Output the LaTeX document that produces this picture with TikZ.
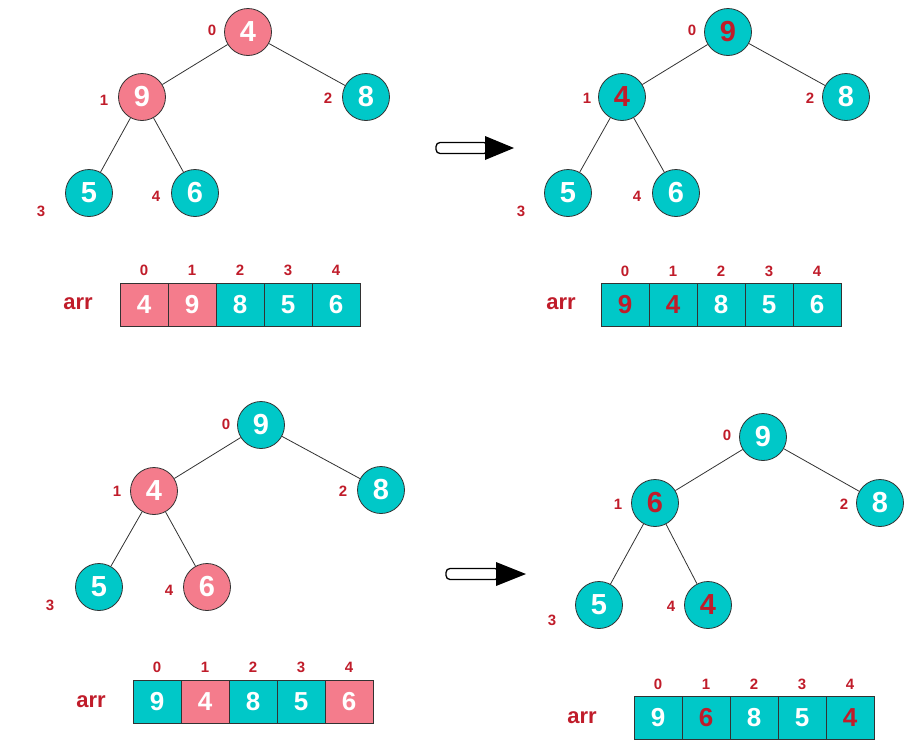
\documentclass[tikz,border=0pt]{standalone}
\usepackage{fontspec}
\setmainfont{Liberation Sans}
\definecolor{pinkc}{RGB}{244,124,140}
\definecolor{tealc}{RGB}{0,200,200}
\definecolor{redc}{RGB}{192,28,42}
\definecolor{linec}{RGB}{50,50,50}
\tikzset{
  hn/.style={circle, draw=linec, line width=0.8pt, minimum size=47pt, inner sep=0pt,
    font=\fontsize{29}{29}\selectfont\bfseries, text=white},
  pk/.style={hn, fill=pinkc},
  tl/.style={hn, fill=tealc},
  idx/.style={font=\fontsize{15}{15}\selectfont\bfseries, text=redc, inner sep=0pt},
  aidx/.style={font=\fontsize{15}{15}\selectfont\bfseries, text=redc, inner sep=0pt},
  arrlab/.style={font=\fontsize{22}{22}\selectfont\bfseries, text=redc, inner sep=0pt},
  cell/.style={rectangle, draw=linec, line width=0.8pt, minimum width=48pt, minimum height=43pt,
    inner sep=0pt, font=\fontsize{26}{26}\selectfont\bfseries, text=white},
  pcell/.style={cell, fill=pinkc},
  tcell/.style={cell, fill=tealc},
  edg/.style={draw=linec, line width=0.8pt},
  shaft/.style={draw=black, line width=1.3pt, fill=white, rounded corners=4pt},
  head/.style={fill=black}
}
\begin{document}
\begin{tikzpicture}[x=1pt,y=-1pt]
\useasboundingbox (0,0) rectangle (919,745);

% ---------- Panel 1 ----------
\node[pk] (a0) at (248,32) {4};
\node[pk] (a1) at (142,97) {9};
\node[tl] (a2) at (366,97) {8};
\node[tl] (a3) at (89,193) {5};
\node[tl] (a4) at (195,193) {6};
\draw[edg] (a0) -- (a1);
\draw[edg] (a0) -- (a2);
\draw[edg] (a1) -- (a3);
\draw[edg] (a1) -- (a4);
\node[idx] (la0) at (212,30) {0};
\node[idx] (la1) at (104,100) {1};
\node[idx] (la2) at (328,98) {2};
\node[idx] (la3) at (41,211) {3};
\node[idx] (la4) at (156,196) {4};
\node[arrlab] (arrA) at (78,304) {arr};
\node[pcell] (ca0) at (144,304.5) {4};
\node[pcell] (ca1) at (192,304.5) {9};
\node[tcell] (ca2) at (240,304.5) {8};
\node[tcell] (ca3) at (288,304.5) {5};
\node[tcell] (ca4) at (336,304.5) {6};
\foreach \i/\x in {0/144,1/192,2/240,3/288,4/336}
  \node[aidx] (ia\i) at (\x,270) {\i};

% ---------- Arrow 1 ----------
\draw[shaft] (436,142.5) rectangle (488,153.5);
\fill[head] (485,136) -- (514,148) -- (485,160) -- cycle;

% ---------- Panel 2 ----------
\node[tl] (b0) at (728,32) {\textcolor{redc}{9}};
\node[tl] (b1) at (622,97) {\textcolor{redc}{4}};
\node[tl] (b2) at (846,97) {8};
\node[tl] (b3) at (568,193) {5};
\node[tl] (b4) at (676,193) {6};
\draw[edg] (b0) -- (b1);
\draw[edg] (b0) -- (b2);
\draw[edg] (b1) -- (b3);
\draw[edg] (b1) -- (b4);
\node[idx] (lb0) at (692,30) {0};
\node[idx] (lb1) at (587,98) {1};
\node[idx] (lb2) at (810,98) {2};
\node[idx] (lb3) at (521,211) {3};
\node[idx] (lb4) at (637,196) {4};
\node[arrlab] (arrB) at (561,304) {arr};
\node[tcell] (cb0) at (625,304.5) {\textcolor{redc}{9}};
\node[tcell] (cb1) at (673,304.5) {\textcolor{redc}{4}};
\node[tcell] (cb2) at (721,304.5) {8};
\node[tcell] (cb3) at (769,304.5) {5};
\node[tcell] (cb4) at (817,304.5) {6};
\foreach \i/\x in {0/625,1/673,2/721,3/769,4/817}
  \node[aidx] (ib\i) at (\x,271) {\i};

% ---------- Panel 3 ----------
\node[tl] (c0) at (261,425) {9};
\node[pk] (c1) at (154,491) {4};
\node[tl] (c2) at (381,490) {8};
\node[tl] (c3) at (99,587) {5};
\node[pk] (c4) at (207,587) {6};
\draw[edg] (c0) -- (c1);
\draw[edg] (c0) -- (c2);
\draw[edg] (c1) -- (c3);
\draw[edg] (c1) -- (c4);
\node[idx] (lc0) at (226,424) {0};
\node[idx] (lc1) at (117,491) {1};
\node[idx] (lc2) at (343,491) {2};
\node[idx] (lc3) at (50,605) {3};
\node[idx] (lc4) at (169,590) {4};
\node[arrlab] (arrC) at (91,702) {arr};
\node[tcell] (cc0) at (157,702) {9};
\node[pcell] (cc1) at (205,702) {4};
\node[tcell] (cc2) at (253,702) {8};
\node[tcell] (cc3) at (301,702) {5};
\node[pcell] (cc4) at (349,702) {6};
\foreach \i/\x in {0/157,1/205,2/253,3/301,4/349}
  \node[aidx] (ic\i) at (\x,667) {\i};

% ---------- Arrow 2 ----------
\draw[shaft] (446,568.5) rectangle (499,579.5);
\fill[head] (496,562) -- (526,574) -- (496,586) -- cycle;

% ---------- Panel 4 ----------
\node[tl] (d0) at (763,437) {9};
\node[tl] (d1) at (655,503) {\textcolor{redc}{6}};
\node[tl] (d2) at (880,503) {8};
\node[tl] (d3) at (599,605) {5};
\node[tl] (d4) at (708,605) {\textcolor{redc}{4}};
\draw[edg] (d0) -- (d1);
\draw[edg] (d0) -- (d2);
\draw[edg] (d1) -- (d3);
\draw[edg] (d1) -- (d4);
\node[idx] (ld0) at (727,435) {0};
\node[idx] (ld1) at (618,504) {1};
\node[idx] (ld2) at (844,504) {2};
\node[idx] (ld3) at (552,620) {3};
\node[idx] (ld4) at (671,606) {4};
\node[arrlab] (arrD) at (582,718) {arr};
\node[tcell] (cd0) at (658,717.5) {9};
\node[tcell] (cd1) at (706,717.5) {\textcolor{redc}{6}};
\node[tcell] (cd2) at (754,717.5) {8};
\node[tcell] (cd3) at (802,717.5) {5};
\node[tcell] (cd4) at (850,717.5) {\textcolor{redc}{4}};
\foreach \i/\x in {0/658,1/706,2/754,3/802,4/850}
  \node[aidx] (id\i) at (\x,684) {\i};
\end{tikzpicture}
\end{document}
